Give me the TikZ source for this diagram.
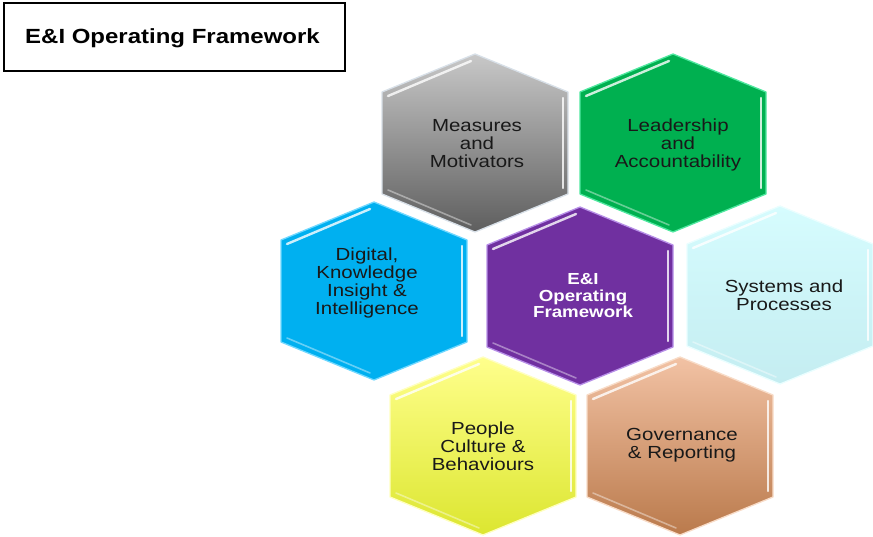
\documentclass[tikz,border=0pt]{standalone}
\usepackage{fontspec}
\setmainfont[FakeStretch=1.17]{Liberation Sans}
\definecolor{grayT}{HTML}{C8C8C8}
\definecolor{grayB}{HTML}{5E5E5E}
\definecolor{grayE}{HTML}{D8E0E8}
\definecolor{greenF}{HTML}{00B050}
\definecolor{greenE}{HTML}{50E8A0}
\definecolor{blueF}{HTML}{00B0F0}
\definecolor{blueE}{HTML}{70D8FF}
\definecolor{purpleF}{HTML}{7030A0}
\definecolor{purpleE}{HTML}{B890E8}
\definecolor{cyanT}{HTML}{D6FCFE}
\definecolor{cyanB}{HTML}{C4EDF1}
\definecolor{cyanE}{HTML}{EAFEFF}
\definecolor{yellowT}{HTML}{FFFF8C}
\definecolor{yellowB}{HTML}{DCE630}
\definecolor{yellowE}{HTML}{FFFFC0}
\definecolor{orangeT}{HTML}{F2C2A4}
\definecolor{orangeB}{HTML}{BA7A4C}
\definecolor{orangeE}{HTML}{F8DCC8}
\newcommand{\hexagon}[5]{%
  \shade[top color=#3, bottom color=#4, draw=#5, line width=1.3pt, line join=round]
    (#1,#2-89) -- (#1+93,#2-51) -- (#1+93,#2+51) -- (#1,#2+89) -- (#1-93,#2+51) -- (#1-93,#2-51) -- cycle;
  \draw[white, opacity=.8, line width=2.4pt, line cap=round] (#1-87,#2-47) -- (#1-4,#2-82);
  \draw[white, opacity=.8, line width=2.2pt, line cap=round] (#1+88,#2-45) -- (#1+88,#2+45);
  \draw[white, opacity=.4, line width=1.6pt, line cap=round] (#1-87,#2+47) -- (#1-4,#2+82);
}
\tikzset{
  hextext/.style={align=center, inner sep=0pt, text=black!90, font=\fontsize{17.5}{18}\selectfont},
}
\begin{document}
\begin{tikzpicture}[x=1pt, y=-1pt]
\useasboundingbox (0,0) rectangle (873,537);
% title box
\draw[line width=1.3pt, fill=white] (4,3) rectangle (345,71);
\node[anchor=west, inner sep=0pt, font=\bfseries\fontsize{20.5}{22}\selectfont] (title) at (25,38) {E\&I Operating Framework};
% hexagons
\hexagon{475}{143}{grayT}{grayB}{grayE}
\hexagon{673}{143}{greenF}{greenF}{greenE}
\hexagon{374}{291}{blueF}{blueF}{blueE}
\hexagon{580}{296}{purpleF}{purpleF}{purpleE}
\hexagon{780}{295}{cyanT}{cyanB}{cyanE}
\hexagon{483}{446}{yellowT}{yellowB}{yellowE}
\hexagon{680}{446}{orangeT}{orangeB}{orangeE}
% texts
\node[hextext] (measures) at (477,144) {Measures\\and\\Motivators};
\node[hextext] (leadership) at (678,145) {Leadership\\and\\Accountability};
\node[hextext] (digital) at (367,283) {Digital,\\Knowledge\\Insight \&\\Intelligence};
\node[hextext, text=white, font=\bfseries\fontsize{16}{16.5}\selectfont] (core) at (583,296) {E\&I\\Operating\\Framework};
\node[hextext] (systems) at (784,295) {Systems and\\Processes};
\node[hextext] (people) at (483,446) {People\\Culture \&\\Behaviours};
\node[hextext] (governance) at (682,445) {Governance\\\& Reporting};
\end{tikzpicture}
\end{document}
